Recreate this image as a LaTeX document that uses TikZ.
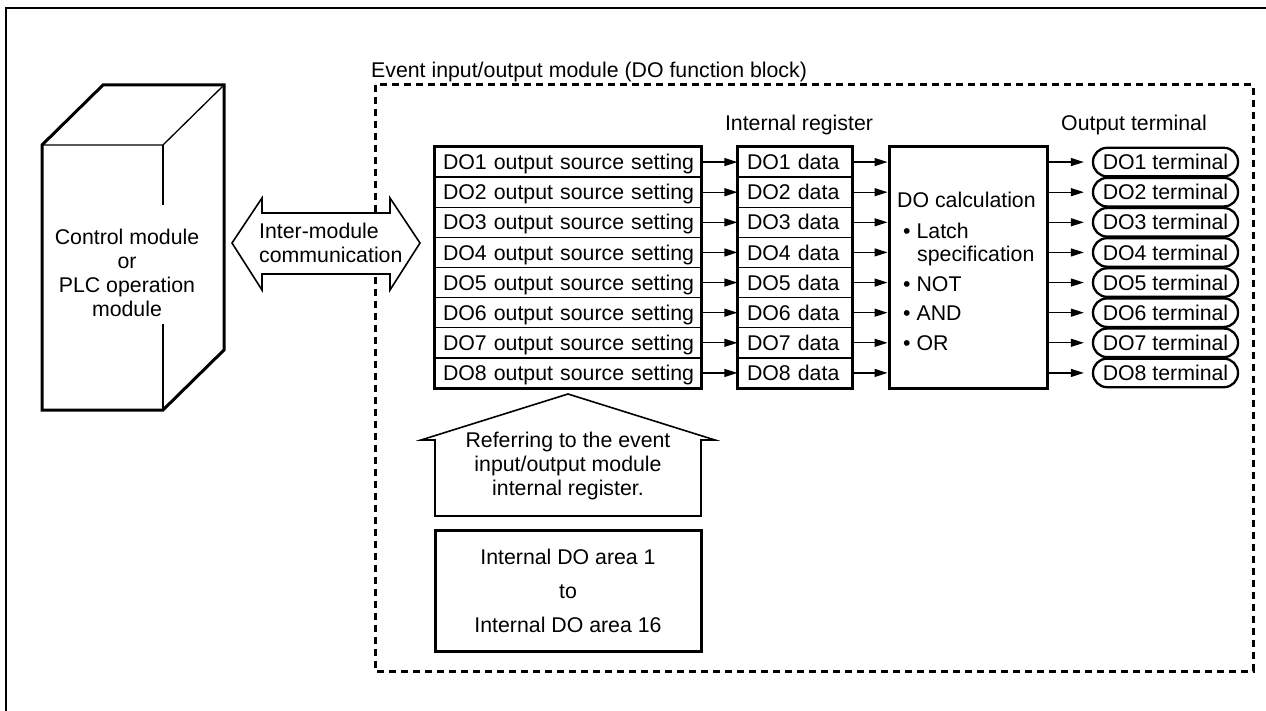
\documentclass[tikz,border=0pt]{standalone}
\usepackage{fontspec}
\setmainfont{Liberation Sans}
\usetikzlibrary{arrows.meta}
\begin{document}
\begin{tikzpicture}[x=1pt,y=-1pt,
  every node/.style={font=\fontsize{21.3}{24}\selectfont, inner sep=0pt},
  thk/.style={line width=3pt},
  thn/.style={line width=1.3pt},
  one/.style={text height=15.3pt, text depth=0pt},
  rowbox/.style={draw, thn, minimum width=266pt, minimum height=30.125pt, text width=250pt, inner xsep=8pt, inner ysep=0pt, align=left, one},
  databox/.style={draw, thn, minimum width=114pt, minimum height=30.125pt, text width=96pt, inner xsep=9pt, inner ysep=0pt, align=left, one},
  term/.style={draw, line width=2.3pt, rounded corners=14pt, minimum width=145pt, minimum height=28.5pt, one},
  arr/.style={line width=1.3pt, -{Triangle[length=13pt,width=8pt]}}
]
\useasboundingbox (0,0) rectangle (1266,711);

% outer frame
\draw[line width=2.5pt] (6,711) -- (6,8) -- (1266,8);

% 3D box
\draw[thk, line join=miter] (42,410) -- (42,145) -- (103,85) -- (224,85) -- (224,350) -- (163,410) -- cycle;
\draw[thn] (42,145) -- (163,145) -- (224,85);
\draw[thn] (163,145) -- (163,205);
\draw[thn] (163,324) -- (163,410);
\node[align=center] (ctrl) at (127,273) {Control module\\or\\PLC operation\\module};

% dashed module frame
\draw[line width=3pt, dash pattern=on 7pt off 5pt] (375,85) rectangle (1253,671);
\node[anchor=west, one] (evt) at (371,70) {Event input/output module (DO function block)};

% double arrow
\draw[line width=1.6pt, fill=white, line join=miter] (232,243) -- (262,198) -- (262,213) -- (390,213) -- (390,198) -- (420,243) -- (390,290) -- (390,274) -- (262,274) -- (262,290) -- cycle;
\node[align=left, anchor=west] (imc) at (259,243) {Inter-module\\communication};

% headers
\node[one] (hreg) at (799,123) {Internal register};
\node[one, anchor=west] (hterm) at (1061,123) {Output terminal};

% rows
\foreach \i in {1,...,8}{
  \pgfmathsetmacro\yy{147+30.125*(\i-0.5)}
  \node[rowbox] (r\i) at (568,\yy) {\mbox{DO\i\ output source setting}};
  \node[databox] (d\i) at (795,\yy) {\mbox{DO\i\ data}};
  \node[term] (t\i) at (1165.5,\yy) {DO\i\ terminal};
}
\draw[thk] (r1.north west) rectangle (r8.south east);
\draw[thk] (d1.north west) rectangle (d8.south east);

% calculation box
\node[draw, thk, minimum width=158pt, minimum height=241pt] (calc) at (968,267.5) {};
\node[anchor=west, one] (c1) at (897,200) {DO calculation};
\node[anchor=west, one] (c2) at (903,231) {\textbullet~Latch};
\node[anchor=west, one] (c3) at (917,254) {specification};
\node[anchor=west, one] (c4) at (903,284) {\textbullet~NOT};
\node[anchor=west, one] (c5) at (903,313) {\textbullet~AND};
\node[anchor=west, one] (c6) at (903,343) {\textbullet~OR};

% arrows
\foreach \i in {1,...,8}{
  \draw[arr] (r\i.east) -- (d\i.west);
  \draw[arr] (d\i.east) -- (d\i.east -| calc.west);
  \draw[arr, shorten >=8pt] (calc.east |- t\i.west) -- (t\i.west);
}

% up arrow
\draw[line width=1.6pt, line join=miter] (568,394) -- (715,440) -- (701,440) -- (701,516) -- (435,516) -- (435,440) -- (421,440) -- cycle;
\node[align=center] (ref) at (568,466) {Referring to the event\\input/output module\\internal register.};

% internal DO area box
\node[draw, thk, minimum width=266pt, minimum height=121pt, align=center] (area) at (568,590.5) {Internal DO area 1\\[10pt]to\\[10pt]Internal DO area 16};
\end{tikzpicture}
\end{document}
